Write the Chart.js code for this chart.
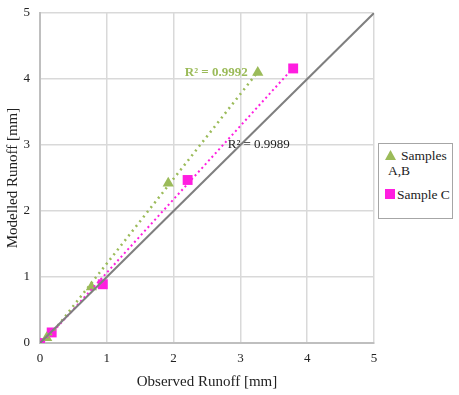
<!DOCTYPE html>
<html>
<head>
<meta charset="utf-8">
<script src="https://cdn.jsdelivr.net/npm/chart.js"></script>
<style>
  html, body { margin: 0; padding: 0; background: #fff; }
  #wrap { position: relative; width: 459px; height: 395px; }
  #legend {
    position: absolute; left: 378px; top: 143px; width: 73px; height: 74px;
    border: 1px solid #a6a6a6; background: #fff;
    font-family: "Liberation Serif", serif; font-size: 13.5px; color: #222;
  }
  .item { position: absolute; left: 6px; line-height: 15px; white-space: nowrap; }
  .mark { position: absolute; left: 0; }
</style>
</head>
<body>
<div id="wrap">
  <canvas id="chart" width="459" height="395"></canvas>
  <div id="legend">
    <div class="item" style="top:4px;">
      <svg class="mark" style="top:2px;" width="11" height="10"><polygon points="5.5,0 11,10 0,10" fill="#9bbb59"/></svg>
      <span style="margin-left:16px;">Samples</span><br><span style="margin-left:3px;">A,B</span>
    </div>
    <div class="item" style="top:43px;">
      <svg class="mark" style="top:2px;" width="10" height="10"><rect width="10" height="10" fill="#ff1ee0"/></svg>
      <span style="margin-left:12px;">Sample C</span>
    </div>
  </div>
</div>
<script>
// observed vs modelled runoff [mm]
const abObserved = [0.10, 0.77, 1.92, 3.26];
const abModelled = [0.08, 0.85, 2.42, 4.10];
const cObserved = [0.00, 0.175, 0.94, 2.21, 3.79];
const cModelled = [0.00, 0.16, 0.89, 2.47, 4.16];
const axisTicks = [0, 1, 2, 3, 4, 5];
const r2Labels = ['R² = 0.9992', 'R² = 0.9989'];

const green = '#9bbb59';
const magenta = '#ff1ee0';
const serif = '"Liberation Serif", serif';

function pts(xs, ys) {
  return xs.map((x, i) => ({ x: x, y: ys[i] }));
}

// least squares trendline between min and max x
function trend(xs, ys) {
  const n = xs.length;
  const mx = xs.reduce((a, b) => a + b, 0) / n;
  const my = ys.reduce((a, b) => a + b, 0) / n;
  let sxy = 0, sxx = 0;
  for (let i = 0; i < n; i++) {
    sxy += (xs[i] - mx) * (ys[i] - my);
    sxx += (xs[i] - mx) * (xs[i] - mx);
  }
  const k = sxy / sxx, b = my - k * mx;
  const x0 = Math.min(...xs), x1 = Math.max(...xs);
  return [{ x: x0, y: k * x0 + b }, { x: x1, y: k * x1 + b }];
}

const labelPlugin = {
  id: 'r2',
  afterDatasetsDraw(chart) {
    const { ctx, scales: { x, y } } = chart;
    ctx.save();
    ctx.textBaseline = 'middle';
    ctx.font = 'bold 13px ' + serif;
    ctx.fillStyle = green;
    ctx.textAlign = 'right';
    ctx.fillText(r2Labels[0], x.getPixelForValue(3.11), y.getPixelForValue(4.1));
    ctx.font = '13px ' + serif;
    ctx.fillStyle = '#222';
    ctx.textAlign = 'left';
    ctx.fillText(r2Labels[1], x.getPixelForValue(2.81), y.getPixelForValue(3.0));
    ctx.restore();
  }
};

new Chart(document.getElementById('chart'), {
  type: 'scatter',
  data: {
    datasets: [
      {
        label: '1:1', data: [{ x: 0, y: 0 }, { x: 5, y: 5 }], showLine: true,
        borderColor: '#7f7f7f', borderWidth: 2, pointRadius: 0
      },
      {
        label: 'trend AB', data: trend(abObserved, abModelled), showLine: true,
        borderColor: green, borderWidth: 2.5, borderDash: [2, 4], pointRadius: 0
      },
      {
        label: 'trend C', data: trend(cObserved, cModelled), showLine: true,
        borderColor: magenta, borderWidth: 2, borderDash: [2, 3], pointRadius: 0
      },
      {
        label: 'Samples A,B', data: pts(abObserved, abModelled),
        pointStyle: 'triangle', pointRadius: 6.5, backgroundColor: green, borderColor: green, borderWidth: 0
      },
      {
        label: 'Sample C', data: pts(cObserved, cModelled),
        pointStyle: 'rect', pointRadius: 7, backgroundColor: magenta, borderColor: magenta, borderWidth: 0
      }
    ]
  },
  options: {
    responsive: false,
    animation: false,
    layout: { padding: { top: 13, right: 85, left: 0, bottom: 0 } },
    plugins: { legend: { display: false }, tooltip: { enabled: false } },
    scales: {
      x: {
        min: 0, max: 5,
        afterBuildTicks: s => { s.ticks = axisTicks.map(v => ({ value: v })); },
        afterFit: s => { s.height = 52; s.paddingLeft = 0; s.paddingRight = 0; },
        grid: { color: '#d9d9d9', lineWidth: 1.5, drawTicks: false },
        border: { color: '#bfbfbf', width: 2 },
        ticks: { color: '#222', font: { family: serif, size: 13 }, padding: 8 },
        title: { display: true, text: 'Observed Runoff [mm]', color: '#222', font: { family: serif, size: 15 }, padding: { top: 3 } }
      },
      y: {
        min: 0, max: 5,
        afterBuildTicks: s => { s.ticks = axisTicks.map(v => ({ value: v })); },
        afterFit: s => { s.width = 40; s.paddingTop = 0; s.paddingBottom = 0; },
        grid: { color: '#d9d9d9', lineWidth: 1.5, drawTicks: false },
        border: { color: '#bfbfbf', width: 2 },
        ticks: { color: '#222', font: { family: serif, size: 13 }, padding: 10 },
        title: { display: true, text: 'Modelled Runoff [mm]', color: '#222', font: { family: serif, size: 15 }, padding: { bottom: 2 } }
      }
    }
  },
  plugins: [labelPlugin]
});
</script>
</body>
</html>
